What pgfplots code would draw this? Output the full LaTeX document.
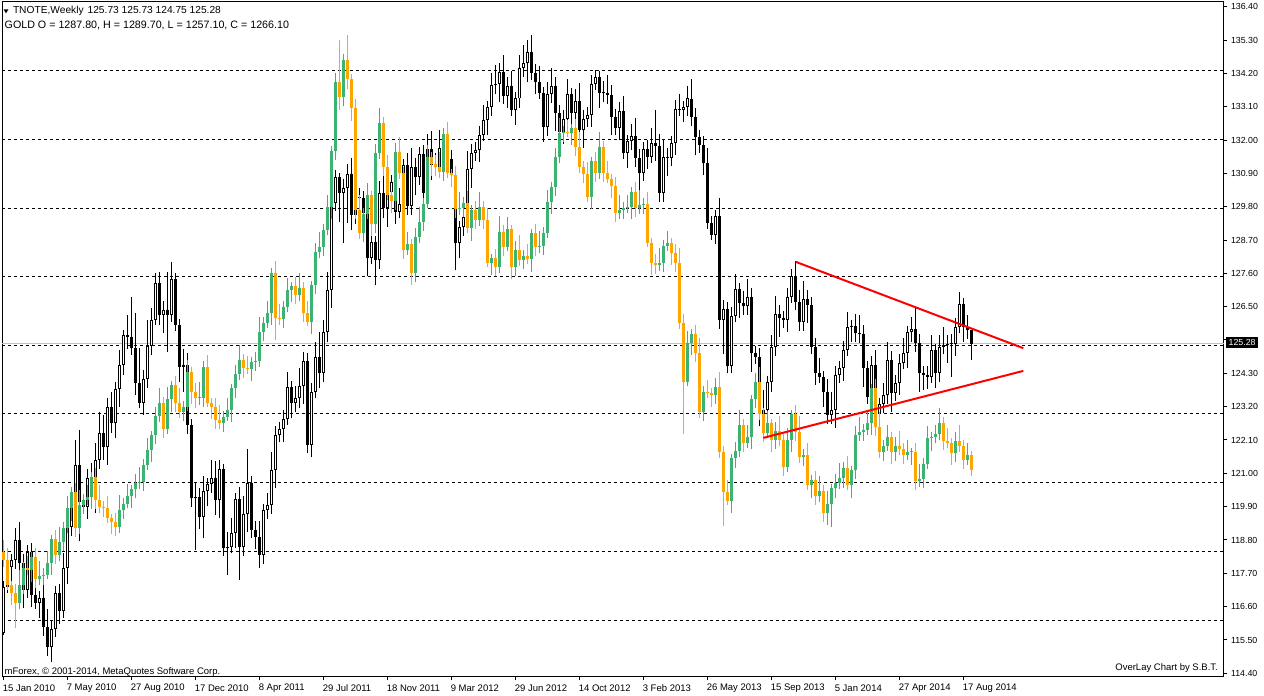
\documentclass[border=0pt]{standalone}
\usepackage{fontspec}
\setmainfont{Liberation Sans}
\usepackage{pgfplots}
\usepackage{pgfplotstable}
\pgfplotsset{compat=1.18}

\definecolor{gup}{RGB}{60,179,113}
\definecolor{gdn}{RGB}{255,165,0}
\definecolor{bidgray}{RGB}{192,192,192}

% weekly candles: TNOTE (t) and GOLD overlay (g), on the TNOTE price scale
\pgfplotstableread{
i tO tH tL tC gO gH gL gC
0 115.72 117.43 115.66 117.26 118.41 118.80 117.90 118.14
1 117.26 118.40 117.06 117.90 118.14 118.54 117.16 117.31
2 117.90 118.34 117.40 118.14 117.31 117.46 116.64 117.04
3 118.14 119.20 117.84 118.80 117.04 117.34 115.90 116.71
4 118.80 119.40 117.73 118.03 116.71 117.81 116.51 117.31
5 118.03 118.33 116.55 117.15 117.31 118.06 117.01 117.86
6 117.15 118.65 116.90 118.40 117.86 118.26 117.65 117.80
7 118.40 118.70 116.60 117.00 117.80 118.40 117.40 118.25
8 117.00 117.50 116.53 116.73 118.25 118.55 117.20 117.50
9 116.73 117.10 116.23 116.90 117.50 118.10 117.30 117.60
10 116.90 117.30 115.62 115.92 117.60 117.86 117.30 117.66
11 115.92 116.52 114.98 115.28 117.66 118.45 117.51 118.05
12 115.28 116.15 114.78 115.85 118.05 118.97 117.65 118.82
13 115.85 117.29 115.60 117.04 118.82 119.12 118.00 118.30
14 117.04 117.34 116.04 116.44 118.30 119.24 118.10 118.74
15 116.44 118.36 116.24 117.86 118.74 119.38 118.44 119.18
16 117.86 119.44 117.36 119.24 119.18 120.24 119.03 119.84
17 119.24 120.30 118.94 119.90 119.84 120.54 119.44 120.39
18 119.90 122.10 119.60 121.27 120.39 120.69 118.89 119.19
19 121.27 122.43 118.75 120.06 119.19 120.46 118.99 119.96
20 120.06 120.31 119.65 119.90 119.96 120.32 119.66 120.12
21 119.90 121.13 119.50 120.83 120.12 120.63 119.97 120.23
22 120.83 121.33 120.50 120.70 120.23 121.04 119.83 120.89
23 120.70 121.99 119.68 121.44 120.89 121.19 119.82 120.12
24 121.44 123.03 121.14 122.32 120.12 120.62 119.70 119.90
25 122.32 122.92 121.44 121.88 119.90 120.10 119.55 119.85
26 121.88 123.50 121.28 123.20 119.85 120.25 119.36 119.51
27 123.20 123.70 122.32 122.65 119.51 119.66 119.00 119.40
28 122.65 124.02 122.15 123.77 119.40 119.70 118.94 119.24
29 123.77 125.07 123.20 124.57 119.24 120.29 119.04 119.79
30 124.57 125.73 124.24 125.56 119.79 120.19 119.49 119.99
31 125.56 126.22 125.10 125.50 119.99 120.66 119.84 120.26
32 125.50 126.83 124.90 125.12 120.26 120.62 119.86 120.47
33 125.12 126.28 123.58 123.99 120.47 120.99 120.17 120.69
34 123.99 125.12 123.14 123.33 120.69 121.22 120.49 120.72
35 123.33 124.40 122.92 124.10 120.72 121.47 120.42 121.27
36 124.10 126.06 123.80 125.20 121.27 122.17 121.12 121.77
37 125.20 126.44 124.90 126.06 121.77 122.41 121.37 122.26
38 126.06 127.62 125.90 127.27 122.26 123.19 121.96 122.89
39 127.27 127.65 125.90 126.22 122.89 123.83 122.69 123.33
40 126.22 126.69 125.62 126.39 123.33 123.53 122.15 122.45
41 126.39 127.65 125.02 126.22 122.45 123.84 122.30 123.44
42 126.22 127.98 125.98 127.40 123.44 124.06 123.04 123.91
43 127.40 127.62 125.70 125.90 123.91 124.21 123.03 123.33
44 125.90 126.10 124.02 124.52 123.33 123.83 122.83 123.03
45 124.52 125.10 123.70 124.57 123.03 123.40 122.73 123.20
46 124.57 124.96 122.30 122.60 123.20 124.75 123.05 124.35
47 122.60 122.80 119.90 120.17 124.35 124.50 123.29 123.69
48 120.17 120.70 118.47 120.23 123.69 123.99 123.17 123.47
49 120.23 120.53 119.15 119.55 123.47 124.00 123.27 123.50
50 119.55 120.90 118.85 120.42 123.50 124.70 123.20 124.50
51 120.42 120.85 119.92 120.65 124.50 124.90 123.18 123.33
52 120.65 121.44 120.35 120.86 123.33 123.48 122.80 123.20
53 120.86 121.40 119.63 120.12 123.20 123.50 122.46 122.76
54 120.12 121.44 119.52 121.14 122.76 123.26 122.45 122.65
55 121.14 121.30 118.28 118.53 122.65 123.07 122.35 122.87
56 118.53 119.06 117.65 118.56 122.87 123.49 122.72 123.09
57 118.56 119.52 118.36 119.02 123.09 123.95 122.69 123.80
58 119.02 120.34 118.52 120.14 123.80 124.58 123.50 124.28
59 120.14 120.54 117.48 118.58 124.28 125.24 124.08 124.74
60 118.58 120.25 118.28 119.65 124.74 124.94 124.16 124.46
61 119.65 121.79 119.05 120.67 124.46 124.86 124.29 124.44
62 120.67 120.92 118.88 119.13 124.44 124.83 124.04 124.68
63 119.13 119.43 118.51 118.91 124.68 125.00 124.38 124.70
64 118.91 119.41 117.86 118.30 124.70 126.17 124.50 125.67
65 118.30 119.99 118.00 119.79 125.67 126.15 125.37 125.95
66 119.79 120.35 119.49 119.95 125.95 126.70 125.80 126.30
67 119.95 121.71 119.65 121.11 126.30 127.77 125.90 127.62
68 121.11 122.57 120.51 122.27 127.62 128.00 125.40 126.12
69 122.27 122.70 122.02 122.45 126.12 126.60 125.90 126.10
70 122.45 123.09 122.05 122.79 126.10 126.68 125.80 126.48
71 122.79 124.34 122.59 123.84 126.48 127.45 126.33 127.05
72 123.84 124.04 122.81 123.31 127.05 127.33 126.65 127.18
73 123.31 123.87 123.01 123.47 127.18 127.48 126.58 126.88
74 123.47 124.48 123.17 123.88 126.88 127.60 126.68 127.10
75 123.88 125.01 123.28 124.71 127.10 127.30 125.98 126.28
76 124.71 124.96 121.66 121.93 126.28 126.68 125.85 126.00
77 121.93 123.97 121.53 123.67 126.00 127.36 125.60 127.21
78 123.67 125.35 123.47 124.85 127.21 128.61 126.91 128.31
79 124.85 125.67 123.80 124.30 128.31 128.98 128.11 128.48
80 124.30 126.05 124.00 125.65 128.48 129.23 128.18 129.03
81 125.65 127.65 125.35 127.05 129.03 130.20 128.88 129.80
82 127.05 130.24 126.45 129.91 129.80 131.79 129.40 131.64
83 129.91 131.00 129.66 130.79 131.64 134.22 131.34 133.92
84 130.79 130.90 129.30 130.26 133.92 135.30 133.00 133.41
85 130.26 130.70 128.60 130.40 133.41 134.84 133.11 134.64
86 130.40 131.20 129.25 130.88 134.64 135.47 133.70 134.03
87 130.88 131.40 129.04 129.53 134.03 134.18 132.64 133.04
88 129.53 130.73 129.23 130.13 133.04 133.34 129.39 129.69
89 130.13 130.43 129.47 130.07 129.69 130.19 128.72 128.92
90 130.07 130.32 129.35 129.60 128.92 129.75 128.62 129.55
91 129.60 129.90 127.50 128.10 129.55 130.58 129.40 130.18
92 128.10 129.14 127.90 128.64 130.18 130.33 128.82 129.22
93 128.64 128.84 127.20 128.04 129.22 131.86 128.92 131.56
94 128.04 130.64 127.74 130.24 131.56 133.05 131.36 132.55
95 130.24 130.84 129.44 129.74 132.55 132.75 130.82 131.12
96 129.74 130.57 129.14 130.27 131.12 131.52 130.03 130.18
97 130.27 130.85 130.02 130.60 130.18 130.33 129.60 130.00
98 130.60 130.80 129.23 129.63 130.00 131.91 129.70 131.61
99 129.63 130.40 129.43 129.90 131.61 132.11 130.70 130.90
100 129.90 131.37 129.40 131.17 130.90 131.10 128.07 128.37
101 131.17 131.57 129.52 129.82 128.37 128.97 128.22 128.57
102 129.82 131.72 129.52 131.12 128.57 128.72 127.20 127.60
103 131.12 131.42 130.17 130.77 127.60 129.09 127.30 128.79
104 130.77 131.78 130.52 131.53 128.79 129.80 128.59 129.30
105 131.53 131.83 129.84 130.24 129.30 130.10 129.00 129.90
106 130.24 132.19 130.04 131.69 129.90 131.85 129.75 131.45
107 131.69 132.30 130.67 131.17 131.45 131.60 130.80 131.20
108 131.17 131.57 130.80 131.10 131.20 131.50 130.80 131.10
109 131.10 132.32 130.80 131.72 131.10 131.60 130.75 130.95
110 131.72 132.02 130.87 131.47 130.95 132.40 130.65 132.20
111 131.47 131.72 131.11 131.36 132.20 132.60 130.75 130.90
112 131.36 131.66 130.44 130.84 130.90 131.05 130.45 130.85
113 130.84 131.00 127.70 128.59 130.85 131.15 129.41 129.71
114 128.59 129.34 128.09 129.14 129.71 130.27 129.51 129.77
115 129.14 129.87 128.84 129.47 129.77 130.13 129.47 129.93
116 129.47 131.63 129.17 131.03 129.93 130.33 128.93 129.08
117 131.03 131.86 130.43 131.56 129.08 129.84 128.68 129.69
118 131.56 131.92 131.31 131.67 129.69 129.99 129.06 129.36
119 131.67 132.46 131.27 132.16 129.36 130.28 129.16 129.78
120 132.16 133.16 131.96 132.66 129.78 129.98 129.06 129.36
121 132.66 133.28 132.16 133.08 129.36 129.76 127.80 127.95
122 133.08 134.21 132.78 133.81 127.95 128.25 127.55 128.10
123 133.81 134.46 133.51 133.86 128.10 128.40 127.50 127.80
124 133.86 134.55 133.26 134.25 127.80 129.48 127.60 128.98
125 134.25 134.80 133.20 133.45 128.98 129.18 128.18 128.48
126 133.45 134.08 133.05 133.78 128.48 129.45 128.33 129.05
127 133.78 134.28 132.79 132.99 129.05 129.20 127.40 127.80
128 132.99 133.57 132.49 133.37 127.80 128.67 127.50 128.37
129 133.37 134.79 133.07 134.39 128.37 128.87 127.84 128.04
130 134.39 135.13 134.09 134.53 128.04 128.37 127.74 128.17
131 134.53 135.30 133.93 134.89 128.17 128.57 127.91 128.06
132 134.89 135.47 133.97 134.22 128.06 129.07 127.66 128.92
133 134.22 134.52 133.53 133.93 128.92 129.22 128.16 128.46
134 133.93 134.43 133.36 133.56 128.46 129.00 128.26 128.50
135 133.56 133.76 131.94 132.44 128.50 129.12 128.20 128.92
136 132.44 133.92 132.14 133.52 128.92 130.36 128.77 129.96
137 133.52 134.38 133.22 133.78 129.96 130.61 129.56 130.46
138 133.78 134.08 132.30 132.90 130.46 131.73 130.16 131.43
139 132.90 133.15 132.02 132.27 131.43 132.72 131.23 132.22
140 132.27 132.98 131.87 132.68 132.22 132.45 131.92 132.25
141 132.68 134.02 132.48 133.52 132.25 132.65 132.09 132.24
142 133.52 133.72 132.40 132.90 132.24 132.53 131.84 132.38
143 132.90 133.69 132.60 133.29 132.38 132.68 131.48 131.78
144 133.29 133.89 132.03 132.33 131.78 132.28 130.92 131.12
145 132.33 132.98 131.73 132.68 131.12 131.32 130.58 130.88
146 132.68 133.08 132.43 132.83 130.88 131.28 129.96 130.11
147 132.83 134.14 132.43 133.84 130.11 131.45 129.71 131.30
148 133.84 134.30 133.64 134.09 131.30 131.60 130.62 130.92
149 134.09 134.29 133.06 133.56 130.92 132.28 130.72 131.78
150 133.56 133.96 133.24 133.54 131.78 131.98 130.62 130.92
151 133.54 134.14 133.20 133.50 130.92 131.32 130.57 130.72
152 133.50 133.80 132.17 132.77 130.72 130.87 130.07 130.47
153 132.77 133.02 132.15 132.40 130.47 130.77 129.30 129.60
154 132.40 133.26 132.00 132.96 129.60 130.18 129.40 129.68
155 132.96 133.46 131.36 131.56 129.68 129.95 129.38 129.75
156 131.56 132.17 131.06 131.97 129.75 130.20 129.60 129.80
157 131.97 132.53 131.67 132.13 129.80 130.45 129.40 130.30
158 132.13 132.73 131.10 131.40 130.30 130.60 129.45 129.75
159 131.40 131.70 130.30 130.90 129.75 130.36 129.55 129.86
160 130.90 131.94 130.65 131.69 129.86 130.10 129.56 129.90
161 131.69 131.99 131.05 131.45 129.90 130.30 128.46 128.61
162 131.45 132.41 131.25 131.91 128.61 128.76 127.55 127.95
163 131.91 133.00 131.30 131.80 127.95 128.25 127.57 127.87
164 131.80 132.20 129.94 130.24 127.87 128.45 127.67 127.95
165 130.24 132.03 129.94 131.43 127.95 128.70 127.65 128.50
166 131.43 131.73 130.80 131.40 128.50 129.01 128.35 128.61
167 131.40 132.14 131.15 131.89 128.61 128.76 127.88 128.28
168 131.89 133.31 131.49 133.01 128.28 128.58 127.65 127.95
169 133.01 133.51 132.80 133.00 127.95 128.45 125.75 125.95
170 133.00 133.30 132.60 133.10 125.95 126.25 122.30 124.02
171 133.10 133.77 132.80 133.37 124.02 125.69 123.87 125.29
172 133.37 134.00 132.47 132.77 125.29 125.75 124.89 125.60
173 132.77 133.07 131.49 132.09 125.60 125.90 124.68 124.98
174 132.09 132.34 131.58 131.83 124.98 125.48 122.83 123.03
175 131.83 132.13 130.83 131.23 123.03 123.89 122.73 123.69
176 131.23 131.73 129.07 129.27 123.69 124.09 123.50 123.65
177 129.27 129.50 128.70 128.88 123.65 123.80 123.20 123.60
178 128.88 129.70 128.58 129.49 123.60 124.14 123.30 123.84
179 129.49 130.09 125.76 126.06 123.84 124.34 121.51 121.71
180 126.06 126.71 124.94 126.41 121.71 121.91 119.25 120.39
181 126.41 126.66 124.30 124.54 120.39 120.79 119.95 120.10
182 124.54 126.49 124.30 126.19 120.10 121.64 119.70 121.49
183 126.19 127.57 125.99 127.07 121.49 122.05 121.19 121.75
184 127.07 127.27 126.11 126.61 121.75 123.09 121.55 122.59
185 126.61 127.01 126.22 126.52 122.59 122.79 121.70 122.00
186 126.52 127.41 126.22 126.81 122.00 122.60 121.85 122.20
187 126.81 127.11 124.36 124.96 122.20 123.60 121.80 123.45
188 124.96 125.21 124.60 124.85 123.45 124.30 123.15 124.00
189 124.85 125.15 122.56 122.96 124.00 124.50 122.76 122.96
190 122.96 123.75 122.17 123.10 122.96 123.16 122.04 122.34
191 123.10 124.20 122.60 124.00 122.34 123.05 122.19 122.65
192 124.00 125.58 123.70 125.18 122.65 122.80 121.70 122.10
193 125.18 126.85 124.88 126.25 122.10 122.70 121.80 122.40
194 126.25 126.55 125.51 126.11 122.40 122.90 121.90 122.10
195 126.11 126.36 125.81 126.06 122.10 122.30 120.90 121.20
196 126.06 127.13 125.66 126.83 121.20 122.50 121.05 122.10
197 126.83 127.75 126.63 127.51 122.10 123.10 121.70 122.95
198 127.51 128.00 126.40 126.66 122.95 123.25 122.08 122.38
199 126.66 127.06 125.70 126.00 122.38 122.88 121.35 121.55
200 126.00 127.34 125.70 126.74 121.55 121.80 121.25 121.60
201 126.74 127.04 125.96 126.56 121.60 122.00 120.45 120.60
202 126.56 126.81 124.93 125.18 120.60 120.93 120.20 120.78
203 125.18 125.48 123.92 124.32 120.78 121.08 119.95 120.25
204 124.32 124.82 123.99 124.19 120.25 120.90 120.05 120.40
205 124.19 124.39 123.20 123.70 120.40 120.60 119.40 119.70
206 123.70 124.10 122.62 122.92 119.70 120.40 119.30 120.00
207 122.92 123.69 122.62 123.09 120.00 120.65 119.24 120.50
208 123.09 124.54 122.49 124.24 120.50 120.98 120.20 120.68
209 124.24 124.71 123.99 124.46 120.68 121.33 120.48 120.83
210 124.46 125.37 124.06 125.07 120.83 121.36 120.53 121.16
211 125.07 126.32 124.87 125.82 121.16 121.56 120.45 120.60
212 125.82 126.05 125.32 125.85 120.60 121.25 120.20 121.10
213 125.85 126.25 125.32 125.62 121.10 122.56 120.80 122.26
214 125.62 126.22 125.30 125.60 122.26 122.87 122.06 122.37
215 125.60 125.90 123.86 124.46 122.37 122.63 122.07 122.43
216 124.46 124.71 123.28 123.53 122.43 123.07 122.28 122.67
217 123.53 124.87 123.13 124.57 122.67 123.95 122.27 123.80
218 124.57 125.07 122.80 123.00 123.80 124.10 122.22 122.52
219 123.00 123.50 122.50 123.30 122.52 123.02 121.52 121.72
220 123.30 123.98 123.00 123.58 121.72 122.10 121.42 121.90
221 123.58 125.34 123.28 124.74 121.90 122.60 121.75 122.20
222 124.74 125.04 123.04 123.64 122.20 122.35 121.32 121.72
223 123.64 124.24 123.39 123.99 121.72 122.20 121.42 121.90
224 123.99 124.93 123.59 124.63 121.90 122.40 121.60 121.80
225 124.63 125.46 124.43 124.96 121.80 122.00 121.30 121.60
226 124.96 125.85 124.46 125.65 121.60 122.09 121.45 121.69
227 125.65 126.15 125.35 125.75 121.69 121.85 121.29 121.70
228 125.75 126.50 125.01 125.31 121.70 122.00 120.46 120.76
229 125.31 125.61 123.70 124.30 120.76 121.30 120.56 120.80
230 124.30 124.55 123.75 124.25 120.80 121.50 120.50 121.30
231 124.25 124.55 123.79 124.19 121.30 122.55 121.15 122.15
232 124.19 125.57 123.99 125.07 122.15 122.35 121.75 122.20
233 125.07 125.27 123.80 124.30 122.20 122.60 122.00 122.30
234 124.30 125.58 124.00 125.18 122.30 123.17 122.10 122.67
235 125.18 125.84 124.94 125.24 122.67 122.87 121.78 122.08
236 125.24 125.57 124.64 125.27 122.08 122.48 121.85 122.00
237 125.27 125.60 124.19 125.26 122.00 122.15 121.28 121.68
238 125.26 126.12 124.86 125.82 121.68 122.38 121.38 122.08
239 125.82 126.98 125.62 126.60 122.08 122.58 121.70 121.90
240 126.60 126.80 125.32 125.82 121.90 122.10 121.14 121.44
241 125.82 126.22 125.43 125.73 121.44 122.00 121.29 121.60
242 125.73 125.73 124.75 125.28 121.60 121.75 120.90 121.11
}\candles

\begin{document}
\begin{tikzpicture}
\useasboundingbox (0,0) rectangle (1264pt,696pt);
\begin{axis}[
    at={(2pt,19pt)}, anchor=south west,
    scale only axis, width=1222pt, height=675pt,
    xmin=-0.325, xmax=305.175,
    ymin=114.278, ymax=136.555,
    axis line style={black, line width=1pt},
    xtick pos=left, ytick pos=right, yticklabel pos=right,
    tick align=outside, major tick length=3.5pt,
    tick style={black, line width=1pt},
    xtick={0,16,...,240},
    xticklabels={15 Jan 2010,7 May 2010,27 Aug 2010,17 Dec 2010,8 Apr 2011,29 Jul 2011,18 Nov 2011,9 Mar 2012,29 Jun 2012,14 Oct 2012,3 Feb 2013,26 May 2013,15 Sep 2013,5 Jan 2014,27 Apr 2014,17 Aug 2014},
    xticklabel style={anchor=west, font=\fontsize{9.5}{11}\selectfont, xshift=-4pt, yshift=-7.5pt},
    ytick={114.4,115.5,116.6,117.7,118.8,119.9,121.0,122.1,123.2,124.3,125.4,126.5,127.6,128.7,129.8,130.9,132.0,133.1,134.2,135.3,136.4},
    yticklabels={114.40,115.50,116.60,117.70,118.80,119.90,121.00,122.10,123.20,124.30,,126.50,127.60,128.70,129.80,130.90,132.00,133.10,134.20,135.30,136.40},
    yticklabel style={anchor=west, font=\fontsize{8.8}{10}\selectfont, xshift=0pt},
    extra y ticks={134.288,132.022,129.756,127.489,125.225,122.958,120.690,118.427,116.159},
    extra y tick labels={},
    extra y tick style={grid=major, major tick length=0pt,
        major grid style={black, line width=1pt, dash pattern=on 3pt off 3pt}},
]

% bid line
\addplot[bidgray, line width=1pt] coordinates {(-0.325,125.28) (305.175,125.28)};

% TNOTE candles
\addplot[black, line width=1pt, quiver={u=0, v={\thisrow{tH}-\thisrow{tL}}}]
    table[x=i, y=tL] {\candles};
\addplot[black, line width=3pt, quiver={u=0, v={max(abs(\thisrow{tC}-\thisrow{tO}),0.033)}}]
    table[x=i, y expr={min(\thisrow{tO},\thisrow{tC})}] {\candles};
\addplot[white, line width=1pt, restrict expr to domain={\thisrow{tC}-\thisrow{tO}}{0.07:100},
    quiver={u=0, v={\thisrow{tC}-\thisrow{tO}-0.066}}]
    table[x=i, y expr={\thisrow{tO}+0.033}] {\candles};

% GOLD overlay candles
\addplot[gup, line width=1pt, restrict expr to domain={\thisrow{gC}-\thisrow{gO}}{0:100},
    quiver={u=0, v={\thisrow{gH}-\thisrow{gL}}}]
    table[x=i, y=gL] {\candles};
\addplot[gdn, line width=1pt, restrict expr to domain={\thisrow{gC}-\thisrow{gO}}{-100:-0.0001},
    quiver={u=0, v={\thisrow{gH}-\thisrow{gL}}}]
    table[x=i, y=gL] {\candles};
\addplot[gup, line width=3pt, restrict expr to domain={\thisrow{gC}-\thisrow{gO}}{0:100},
    quiver={u=0, v={max(\thisrow{gC}-\thisrow{gO},0.033)}}]
    table[x=i, y=gO] {\candles};
\addplot[gdn, line width=3pt, restrict expr to domain={\thisrow{gC}-\thisrow{gO}}{-100:-0.0001},
    quiver={u=0, v={max(\thisrow{gO}-\thisrow{gC},0.033)}}]
    table[x=i, y=gC] {\candles};

% triangle trend lines
\addplot[red, line width=2pt] coordinates {(198.1,127.98) (255.0,125.13)};
\addplot[red, line width=2pt] coordinates {(190.0,122.17) (255.0,124.38)};

\coordinate (pb) at (axis cs:305.175,125.28);
\end{axis}

% header and footer texts
\fill (3.5pt,686.7pt) -- (8.5pt,686.7pt) -- (6pt,682.7pt) -- cycle;
\node[anchor=base west, inner sep=0pt, font=\fontsize{10.2}{12}\selectfont]
    at (12.8pt,682.5pt) {TNOTE,Weekly\hspace{4pt}125.73 125.73 124.75 125.28};
\node[anchor=base west, inner sep=0pt, font=\fontsize{10.7}{12}\selectfont]
    at (4.5pt,667pt) {GOLD O = 1287.80, H = 1289.70, L = 1257.10, C = 1266.10};
\node[anchor=base west, inner sep=0pt, font=\fontsize{9.5}{11}\selectfont]
    at (4.5pt,21.5pt) {mForex, \textcopyright\ 2001-2014, MetaQuotes Software Corp.};
\node[anchor=base east, inner sep=0pt, font=\fontsize{9.5}{11}\selectfont]
    at (1218pt,25.5pt) {OverLay Chart by S.B.T.};
\node[anchor=west, fill=black, text=white, inner xsep=2.5pt, inner ysep=0pt,
    minimum height=11pt, font=\fontsize{8.8}{10}\selectfont]
    at ([xshift=2pt,yshift=1pt]pb) {125.28};
\end{tikzpicture}
\end{document}
